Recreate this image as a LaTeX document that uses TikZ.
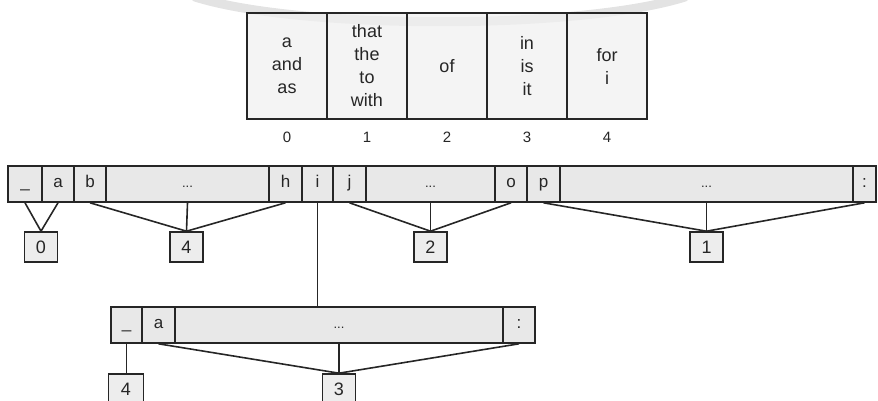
\documentclass[tikz,border=0pt]{standalone}
\usepackage{fontspec}
\setmainfont{Liberation Sans}
\begin{document}
\begin{tikzpicture}[x=1pt,y=-1pt,
  line/.style={draw=black!85, line width=1.6pt},
  tcell/.style={draw=black!85, line width=1.6pt, fill=black!6, fill opacity=0.75, text opacity=1,
    minimum width=80pt, minimum height=106pt, inner sep=0pt, align=center,
    font=\fontsize{18}{23}\selectfont, text=black!85},
  idx/.style={font=\fontsize{15}{17}\selectfont, text=black!85},
  rcell/.style={draw=black!85, line width=1.6pt, fill=black!9, minimum height=36pt,
    inner sep=0pt, text height=9pt, text depth=3pt, font=\fontsize{17}{20}\selectfont, text=black!85},
  dcell/.style={rcell, font=\fontsize{13}{15}\selectfont},
  nbox/.style={draw=black!85, line width=1.6pt, fill=black!7, minimum width=33pt,
    minimum height=30pt, inner sep=0pt, font=\fontsize{18}{20}\selectfont, text=black!85}
]
\useasboundingbox (0,0) rectangle (878,401);
% faint scan arc
\draw[black!18, line width=9pt, line cap=round, opacity=0.6] (195,-3) .. controls (300,30) and (580,30) .. (685,-3);

% top table
\node[tcell] (t0) at (287,66) {a\\and\\as};
\node[tcell] (t1) at (367,66) {that\\the\\to\\with};
\node[tcell] (t2) at (447,66) {of};
\node[tcell] (t3) at (527,66) {in\\is\\it};
\node[tcell] (t4) at (607,66) {for\\i};
\node[idx] (i0) at (287,137) {0};
\node[idx] (i1) at (367,137) {1};
\node[idx] (i2) at (447,137) {2};
\node[idx] (i3) at (527,137) {3};
\node[idx] (i4) at (607,137) {4};

% main row
\node[rcell, minimum width=34pt] (m_) at (25,184) {\symbol{95}};
\node[rcell, minimum width=32pt] (ma) at (58,184) {a};
\node[rcell, minimum width=32pt] (mb) at (90,184) {b};
\node[dcell, minimum width=163pt] (md1) at (187.5,184) {...};
\node[rcell, minimum width=33pt] (mh) at (285.5,184) {h};
\node[rcell, minimum width=31pt] (mi) at (317.5,184) {i};
\node[rcell, minimum width=33pt] (mj) at (349.5,184) {j};
\node[dcell, minimum width=129pt] (md2) at (430.5,184) {...};
\node[rcell, minimum width=32pt] (mo) at (511,184) {o};
\node[rcell, minimum width=33pt] (mp) at (543.5,184) {p};
\node[dcell, minimum width=293pt] (md3) at (706.5,184) {...};
\node[rcell, minimum width=23pt] (mc) at (864.5,184) {:};

% index boxes under main row
\node[nbox] (b0) at (41,247) {0};
\node[nbox] (b4) at (186.5,247) {4};
\node[nbox] (b2) at (430.5,247) {2};
\node[nbox] (b1) at (706.5,247) {1};

\draw[line] (m_.south) -- (b0.north);
\draw[line] (ma.south) -- (b0.north);
\draw[line] (mb.south) -- (b4.north);
\draw[line] (md1.south) -- (b4.north);
\draw[line] (mh.south) -- (b4.north);
\draw[line] (mj.south) -- (b2.north);
\draw[line] (md2.south) -- (b2.north);
\draw[line] (mo.south) -- (b2.north);
\draw[line] (mp.south) -- (b1.north);
\draw[line] (md3.south) -- (b1.north);
\draw[line] (mc.south) -- (b1.north);

% sub row
\node[rcell, minimum width=31pt] (s_) at (126.5,325) {\symbol{95}};
\node[rcell, minimum width=33pt] (sa) at (158.5,325) {a};
\node[dcell, minimum width=328pt] (sd) at (339,325) {...};
\node[rcell, minimum width=32pt] (sc) at (519,325) {:};

\draw[line] (mi.south) -- (mi.south |- sd.north);

\node[nbox, minimum width=35pt] (c4) at (126,389) {4};
\node[nbox] (c3) at (339,389) {3};

\draw[line] (s_.south) -- (s_.south |- c4.north);
\draw[line] (sa.south) -- (c3.north);
\draw[line] (sd.south) -- (c3.north);
\draw[line] (sc.south) -- (c3.north);
\end{tikzpicture}
\end{document}
